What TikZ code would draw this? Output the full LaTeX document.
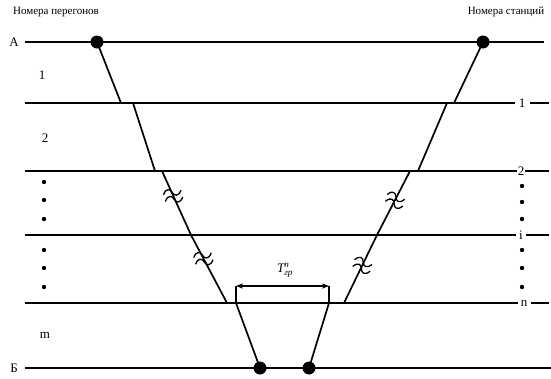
\documentclass[tikz,border=0pt]{standalone}
\usepackage{amsmath}
\usepackage{fontspec}
\setmainfont{Liberation Serif}
\usetikzlibrary{arrows.meta, positioning, calc}

\tikzset{
  station/.style={line width=2pt},
  train/.style={line width=1.7pt},
  stopdot/.style={circle, fill=black, minimum size=13pt, inner sep=0pt},
  lbl/.style={font=\fontsize{13}{15}\selectfont, inner sep=1pt},
  title/.style={font=\fontsize{11}{13}\selectfont, inner sep=0pt},
  breakmark/.pic={
    \draw[line width=1.3pt, line join=round] (-9,-3) .. controls (-5,-9) and (-1,-7) .. (0,-3)
      .. controls (1,1) and (5,3) .. (9,-3);
    \draw[line width=1.3pt, line join=round] (-9,4) .. controls (-5,-2) and (-1,0) .. (0,4)
      .. controls (1,8) and (5,10) .. (9,4);
  }
}

\begin{document}
\begin{tikzpicture}[x=1pt, y=-1pt]
  \useasboundingbox (0,0) rectangle (551,378);

  % titles
  \node[title] (ttlleft) at (56,12) {Номера перегонов};
  \node[title] (ttlright) at (506,12) {Номера станций};

  % station lines
  \node[lbl] (stA) at (14,42) {А};
  \draw[station] (25,42) -- (544,42);
  \node[lbl] (st1) at (522,103) {1};
  \draw[station] (25,103) -- ($(st1.west)+(-3,0)$);
  \draw[station] ($(st1.east)+(4,0)$) -- (549,103);
  \node[lbl] (st2) at (521,171) {2};
  \draw[station] (25,171) -- (st2.west);
  \draw[station] (st2.east) -- (549,171);
  \node[lbl] (sti) at (521,235) {i};
  \draw[station] (25,235) -- ($(sti.west)+(-2,0)$);
  \draw[station] ($(sti.east)+(2,0)$) -- (549,235);
  \node[lbl] (stn) at (524,303) {n};
  \draw[station] (25,303) -- ($(stn.west)+(-2,0)$);
  \draw[station] ($(stn.east)+(3,0)$) -- (549,303);
  \node[lbl] (stB) at (14,368) {Б};
  \draw[station] (25,368) -- (551,368);

  % block section numbers
  \node[lbl] (sec1) at (42,75) {1};
  \node[lbl] (sec2) at (45,138) {2};
  \node[lbl] (secm) at (45,335) {m};
  \foreach \yy in {182,200,219,250,268,287}
    \fill (44,\yy) circle (2.2pt);
  \foreach \yy in {186,202,219,250,268,287}
    \fill (522,\yy) circle (2.2pt);

  % odd train (left)
  \coordinate (a1) at (121,103);
  \coordinate (a2) at (133,103);
  \coordinate (a3) at (155,171);
  \coordinate (a4) at (162,171);
  \coordinate (a5) at (191,235);
  \coordinate (a6) at (227,303);
  \coordinate (b1) at (236,303);
  \node[stopdot] (a0) at (97,42) {};
  \node[stopdot] (b2) at (260,368) {};
  \draw[train] (a0.center) -- (a1) -- (a2) -- (a3) -- (a4) -- (a5) -- (a6) -- (b1) -- (b2.center);

  % even train (right)
  \coordinate (c1) at (454,103);
  \coordinate (c2) at (447,103);
  \coordinate (c3) at (418,171);
  \coordinate (c4) at (410,171);
  \coordinate (c5) at (377,235);
  \coordinate (c6) at (344,303);
  \coordinate (d1) at (329,303);
  \node[stopdot] (c0) at (483,42) {};
  \node[stopdot] (d2) at (309,368) {};
  \draw[train] (c0.center) -- (c1) -- (c2) -- (c3) -- (c4) -- (c5) -- (c6) -- (d1) -- (d2.center);

  % breaks
  \pic[rotate=15] at ($(a4)!0.38!(a5)$) {breakmark};
  \pic[rotate=15] at ($(a5)!0.34!(a6)$) {breakmark};
  \pic[rotate=-15] at ($(c4)!0.45!(c5)$) {breakmark};
  \pic[rotate=-15] at ($(c5)!0.44!(c6)$) {breakmark};

  % interval
  \coordinate (t1) at (236,286);
  \coordinate (t2) at (329,286);
  \draw[train] (b1) -- (t1);
  \draw[train] (d1) -- (t2);
  \draw[train, {Stealth[length=7pt]}-{Stealth[length=7pt]}] (t1) -- (t2);
  \node[inner sep=0pt, font=\fontsize{13}{15}\selectfont] (tgr) at (285,270)
    {$\text{\itshape T}^{\text{\itshape n}}_{\text{\itshape гр}}$};
\end{tikzpicture}
\end{document}
